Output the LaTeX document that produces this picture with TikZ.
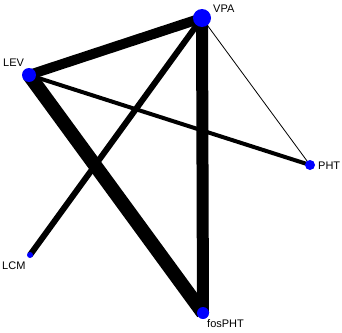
\documentclass[tikz,border=0pt]{standalone}
\usepackage{fontspec}
\setmainfont{Liberation Sans}
\begin{document}
\begin{tikzpicture}[x=1pt,y=-1pt,
  dot/.style={circle,fill=blue,inner sep=0pt,minimum size=#1},
  lab/.style={font=\fontsize{11}{12}\selectfont,inner sep=0pt},
  edge/.style={line width=#1,black}]
\useasboundingbox (0,0) rectangle (342,332);
\coordinate (VPA) at (202,18);
\coordinate (LEV) at (29,75);
\coordinate (PHT) at (310,165);
\coordinate (LCM) at (30,255);
\coordinate (fosPHT) at (203,313);
\draw[edge=10pt] (VPA) -- (LEV);
\draw[edge=12pt] (VPA) -- (fosPHT);
\draw[edge=14pt] (LEV) -- (fosPHT);
\draw[edge=6pt] (VPA) -- (LCM);
\draw[edge=4pt] (LEV) -- (PHT);
\draw[edge=0.8pt] (VPA) -- (PHT);
\node[dot=18pt] (nVPA) at (VPA) {};
\node[dot=14pt] (nLEV) at (LEV) {};
\node[dot=10pt] (nPHT) at (PHT) {};
\node[dot=6pt] (nLCM) at (LCM) {};
\node[dot=12pt] (nfos) at (fosPHT) {};
\node[lab,anchor=west] (tVPA) at (213,9) {VPA};
\node[lab,anchor=west] (tLEV) at (3,63) {LEV};
\node[lab,anchor=west] (tPHT) at (318,166) {PHT};
\node[lab,anchor=west] (tLCM) at (2,266) {LCM};
\node[lab,anchor=west] (tfos) at (207,324) {fosPHT};
\end{tikzpicture}
\end{document}
